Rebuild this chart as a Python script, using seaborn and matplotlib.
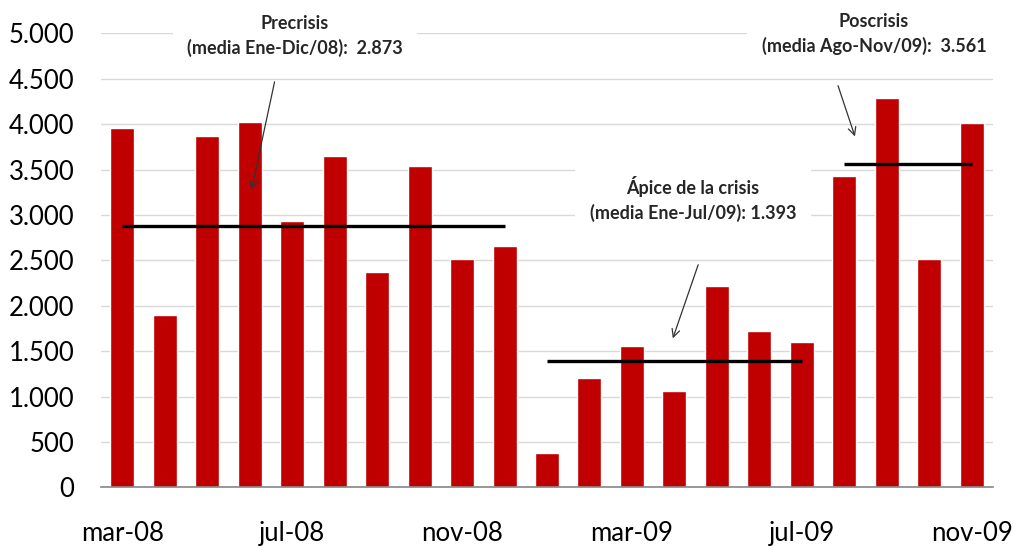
import matplotlib
matplotlib.use("Agg")
import matplotlib.pyplot as plt
import seaborn as sns
from matplotlib.ticker import FuncFormatter, FixedLocator

# monthly values, mar-08 .. nov-09
months = ["mar-08", "abr-08", "may-08", "jun-08", "jul-08", "ago-08", "sep-08",
          "oct-08", "nov-08", "dic-08", "ene-09", "feb-09", "mar-09", "abr-09",
          "may-09", "jun-09", "jul-09", "ago-09", "sep-09", "oct-09", "nov-09"]
values = [3960, 1900, 3870, 4020, 2935, 3644, 2375, 3537, 2517, 2660,
          381, 1207, 1559, 1064, 2216, 1717, 1600, 3431, 4283, 2517, 4008]

# period averages (index of first / last month covered by the line)
period_names = ["Precrisis\n(media Ene-Dic/08):  2.873",
                "Ápice de la crisis\n(media Ene-Jul/09): 1.393",
                "Poscrisis\n(media Ago-Nov/09):  3.561"]
period_mean = [2873, 1393, 3561]
period_start = [0, 10, 17]
period_end = [9, 16, 20]

sns.set_style("white")
plt.rcParams["font.family"] = ["Lato", "DejaVu Sans"]

fig = plt.figure(figsize=(10.13, 5.46), dpi=100)
ax = fig.add_axes([0.0997, 0.1075, 0.8806, 0.8315])

sns.barplot(x=months, y=values, color="#C00000", saturation=1, width=0.565,
            ax=ax, zorder=2)

# mean lines
ax.hlines(period_mean, period_start, period_end, color="black", lw=2.4, zorder=4)

# labels with arrows
text_pos = [(4.07, 4975), (13.44, 3180), (17.7, 4995)]
arrow_from = [(3.60, 4495), (13.58, 2480), (16.83, 4452)]
arrow_to = [(3.03, 3251), (12.94, 1611), (17.27, 3835)]
for name, tp, a0, a1 in zip(period_names, text_pos, arrow_from, arrow_to):
    ax.text(tp[0], tp[1], name, ha="center", va="center", fontsize=13,
            fontweight="bold", linespacing=1.45, clip_on=False, zorder=5,
            bbox=dict(boxstyle="square,pad=0.8", fc="white", ec="none"))
    ax.annotate("", xy=a1, xytext=a0,
                arrowprops=dict(arrowstyle="->", color="#333333", lw=0.9,
                                mutation_scale=14), zorder=5)

ax.set_xlim(-0.5, len(months) - 0.5)
ax.set_ylim(0, 5000)
ax.set_yticks(range(0, 5001, 500))
ax.yaxis.set_major_formatter(FuncFormatter(lambda v, p: f"{int(v):,}".replace(",", ".")))
ax.set_xticks(range(0, len(months), 4))
ax.set_xticklabels(months[::4])
ax.xaxis.set_minor_locator(FixedLocator([i - 0.5 for i in range(0, len(months), 4)]))

ax.tick_params(axis="y", length=0, pad=19, labelsize=18.5, labelcolor="black")
ax.tick_params(axis="x", which="major", length=0, pad=24, labelsize=18.5,
               labelcolor="black")
ax.tick_params(axis="x", which="minor", direction="in", length=7, width=1,
               color="#868686")

ax.grid(axis="y", color="#d9d9d9", lw=1)
ax.set_axisbelow(True)
for s in ["top", "right", "left"]:
    ax.spines[s].set_visible(False)
ax.spines["bottom"].set_color("#868686")
ax.spines["bottom"].set_linewidth(1.2)
ax.set_xlabel("")
ax.set_ylabel("")

fig.savefig("out.png", dpi=100)
